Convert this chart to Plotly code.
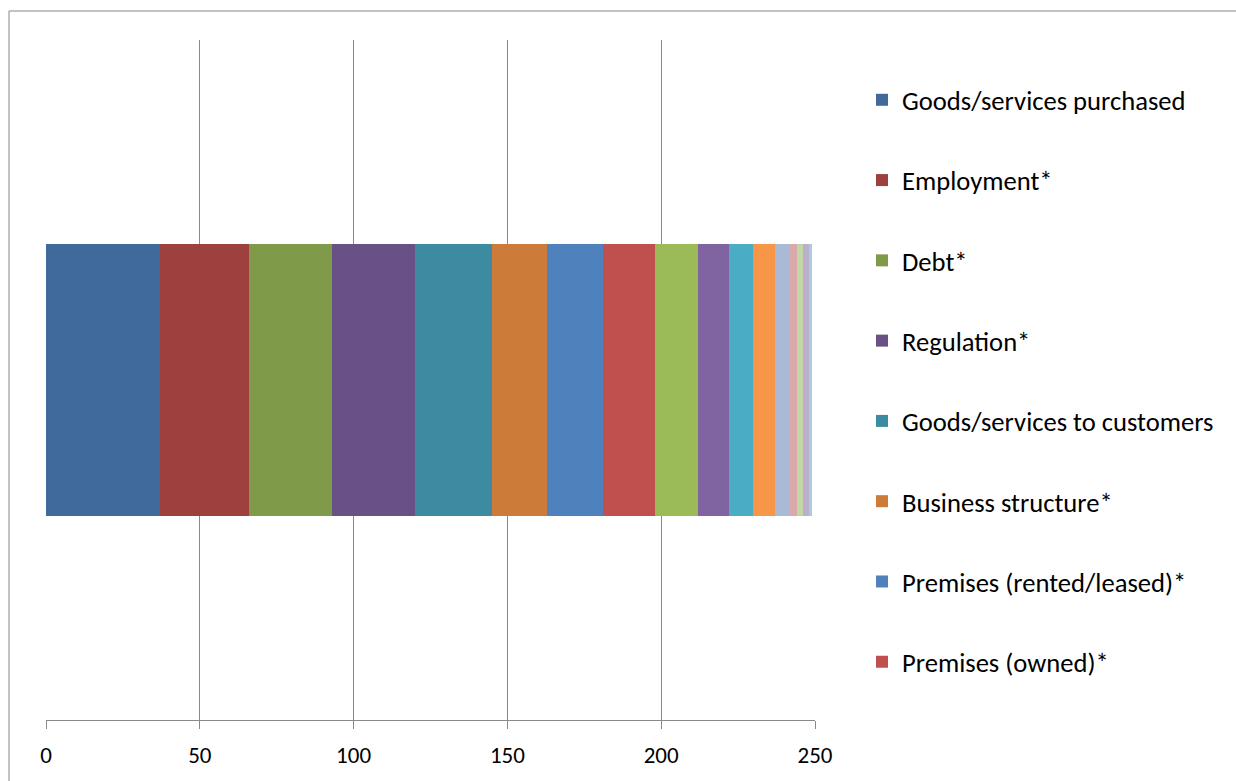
import plotly.graph_objects as go

# Stacked horizontal bar: one row, one segment per factor
factors = [
    "Goods/services purchased", "Employment*", "Debt*", "Regulation*",
    "Goods/services to customers", "Business structure*",
    "Premises (rented/leased)*", "Premises (owned)*",
    "Series 9", "Series 10", "Series 11", "Series 12", "Series 13",
    "Series 14", "Series 15", "Series 16", "Series 17",
]
counts = [37, 29, 27, 27, 25, 18, 18, 17, 14, 10, 8, 7, 5, 2, 2, 2, 1]
colors = [
    "#3F6A9A", "#9E413E", "#7F9A48", "#6A5185", "#3C8BA1", "#CC7B38",
    "#4F81BD", "#C0504D", "#9BBB59", "#8064A2", "#4BACC6", "#F79646",
    "#AAB9D6", "#D9AAA9", "#C4D6A7", "#BAB0CA", "#A8CEDC",
]
legend_count = 8  # only the first eight factors appear in the legend

xticks = [0, 50, 100, 150, 200, 250]

W, H = 1236, 781
ML, MR, MT, MB = 46, W - 815, 40, H - 720
plot_w = W - ML - MR
plot_h = H - MT - MB

FONT = "Carlito, Calibri, Lato, sans-serif"
GRID = "#8A8A8A"

fig = go.Figure()
for i, (name, val, col) in enumerate(zip(factors, counts, colors)):
    fig.add_trace(go.Bar(
        x=[val], y=[0], name=name, orientation="h",
        marker=dict(color=col, line=dict(width=0)),
        width=0.4,
        legendgroup=f"g{i}",
        showlegend=i < legend_count,
    ))

# outer chart frame
fx0 = (9 - ML) / plot_w
fy1 = (H - MB - 11) / plot_h
fig.add_shape(type="rect", xref="paper", yref="paper",
              x0=fx0, x1=2.0, y0=-0.5, y1=fy1,
              line=dict(color="#868686", width=1), fillcolor="rgba(0,0,0,0)",
              layer="below")

fig.update_layout(
    width=W, height=H,
    margin=dict(l=ML, r=MR, t=MT, b=MB, pad=0),
    barmode="stack",
    paper_bgcolor="white", plot_bgcolor="white",
    font=dict(family=FONT, color="#000000", size=20),
    xaxis=dict(
        range=[0, 250], tickvals=xticks, ticktext=[str(t) for t in xticks],
        showgrid=True, gridcolor=GRID, gridwidth=1,
        showline=True, linecolor=GRID, linewidth=1,
        ticks="outside", ticklen=8, tickcolor=GRID, tickwidth=1,
        ticklabelstandoff=6,
        tickfont=dict(family=FONT, size=23, color="#000000"),
        zeroline=False, fixedrange=True,
    ),
    yaxis=dict(
        range=[-0.5, 0.5], showticklabels=False, showgrid=False,
        zeroline=False, showline=False, ticks="",
    ),
    legend=dict(
        x=(862 - ML) / plot_w, xanchor="left",
        y=(H - MB - 76) / plot_h, yanchor="top",
        traceorder="grouped", tracegroupgap=42.7,
        font=dict(family=FONT, size=26.6, color="#000000"),
        bgcolor="rgba(0,0,0,0)", itemwidth=30,
    ),
    showlegend=True,
)

fig.write_html("out.html")
